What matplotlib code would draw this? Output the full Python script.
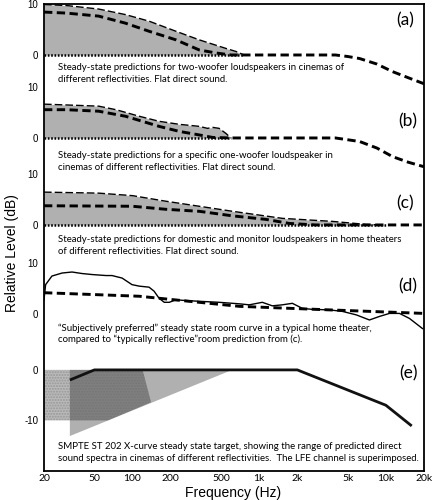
import matplotlib
matplotlib.use("Agg")
import matplotlib.pyplot as plt
from matplotlib.transforms import blended_transform_factory

# ---- data (frequency in Hz, level in dB relative to each panel's 0) ----
# (a) two-woofer cinema loudspeakers
a_upper_f = [20, 30, 54, 88, 135, 220, 336, 546, 655, 760]
a_upper_db = [10.0, 9.8, 9.1, 8.0, 6.7, 4.7, 3.0, 1.3, 0.7, 0.0]
a_lower_f = [20, 30, 54, 88, 135, 220, 336, 455, 600, 3000, 4000, 5000, 6200, 8500, 11300, 15000, 20000]
a_lower_db = [8.5, 8.3, 7.7, 6.3, 4.7, 3.0, 1.0, 0.4, 0.0, 0.0, 0.0, -0.3, -0.7, -1.8, -3.3, -4.5, -5.7]
a_flat_f = [20, 760]

# (b) one-woofer cinema loudspeaker
b_upper_f = [20, 54, 74, 113, 162, 234, 336, 391, 428, 483, 546, 598]
b_upper_db = [6.7, 6.3, 5.6, 4.3, 3.3, 2.7, 2.3, 1.9, 2.1, 1.9, 0.9, 0.0]
b_lower_f = [20, 30, 54, 88, 162, 234, 336, 430, 600, 3000, 4000, 6200, 8500, 11300, 15000, 20000]
b_lower_db = [5.6, 5.6, 5.3, 4.3, 2.3, 1.3, 0.6, 0.1, 0.0, 0.0, 0.0, -0.7, -2.0, -3.7, -4.8, -5.7]
b_flat_f = [20, 600]

# (c) domestic / monitor loudspeakers in home theaters
c_upper_f = [20, 54, 100, 183, 336, 616, 1530, 3800, 7000, 9400]
c_upper_db = [6.5, 6.3, 5.8, 4.7, 3.7, 2.7, 1.3, 0.7, 0.1, 0.0]
c_lower_f = [20, 100, 183, 336, 616, 1130, 1730, 2800, 20000]
c_lower_db = [3.8, 3.7, 3.1, 2.7, 1.8, 1.1, 0.3, 0.0, 0.0]
c_flat_f = [20, 10000]

# (d) preferred room curve vs typically reflective prediction
d_pref_f = [20, 20.6, 23.1, 27.8, 33.3, 39.9, 47.9, 61.8, 68.9, 82.7, 99, 113, 135, 148,
            162, 178, 195, 221, 247, 336, 483, 696, 835, 1058, 1269, 1522, 1826, 2190,
            2628, 3580, 4538, 5856, 7418, 8896, 10676, 12806, 15362, 19458]
d_pref_db = [2.8, 5.8, 7.5, 8.1, 8.3, 8.0, 7.8, 7.6, 7.6, 7.1, 5.8, 5.5, 5.3, 4.5,
             3.1, 2.3, 2.3, 2.8, 2.7, 2.5, 2.3, 2.0, 1.8, 2.3, 1.6, 1.8, 2.1, 1.1,
             0.9, 0.8, 0.5, -0.2, -1.2, -0.5, 0.1, 0.1, -0.9, -2.9]
d_room_f = [20, 113, 280, 696, 3580, 20000]
d_room_db = [4.2, 3.5, 2.5, 1.5, 0.8, 0.1]

# (e) SMPTE ST 202 X-curve, direct sound range, LFE channel
x_curve_f = [32, 50, 2000, 10000, 16000]
x_curve_db = [-2.0, 0.0, 0.0, -7.0, -11.1]
direct_f = [32, 612, 32]
direct_db = [0.0, 0.0, -13.1]
lfe_f = [20, 120, 140, 64, 20]
lfe_db = [0.0, 0.0, -6.4, -10.0, -10.0]

panel_names = ["(a)", "(b)", "(c)", "(d)", "(e)"]
panel_texts = [
    ["Steady-state predictions for two-woofer loudspeakers in cinemas of",
     "different reflectivities. Flat direct sound."],
    ["Steady-state predictions for a specific one-woofer loudspeaker in",
     "cinemas of different reflectivities. Flat direct sound."],
    ["Steady-state predictions for domestic and monitor loudspeakers in home theaters",
     "of different reflectivities. Flat direct sound."],
    ["\u201cSubjectively preferred\u201d steady state room curve in a typical home theater,",
     "compared to \u201ctypically reflective\u201droom prediction from (c)."],
    ["SMPTE ST 202 X-curve steady state target, showing the range of predicted direct",
     "sound spectra in cinemas of different reflectivities.  The LFE channel is superimposed."],
]
x_ticks = [20, 50, 100, 200, 500, 1000, 2000, 5000, 10000, 20000]
x_tick_labels = ["20", "50", "100", "200", "500", "1k", "2k", "5k", "10k", "20k"]

# ---- layout: one axes, panels stacked by vertical offset ----
PX_PER_DB = 5.05
TOP_PX = 4
zero_px = [55, 138, 225, 314, 370]
offsets = [-(p - TOP_PX) / PX_PER_DB for p in zero_px]


def px_to_y(p):
    return -(p - TOP_PX) / PX_PER_DB


plt.rcParams["lines.scale_dashes"] = False

fig = plt.figure(figsize=(4.33, 5.0), dpi=100)
ax = fig.add_axes([44 / 433, 1 - 471 / 500, 380 / 433, 467 / 500])
ax.set_xscale("log")
ax.set_xlim(20, 20000)
ax.set_ylim(-92.5, 0)

fill_grey = "#b0b0b0"
thin = dict(color="black", lw=1.0, dashes=(5.5, 2.2))
thick = dict(color="black", lw=2.1, dashes=(6.0, 3.2))
dots = dict(color="black", lw=1.8, dashes=(1.2, 1.2))

uppers = [(a_upper_f, a_upper_db), (b_upper_f, b_upper_db), (c_upper_f, c_upper_db)]
lowers = [(a_lower_f, a_lower_db), (b_lower_f, b_lower_db), (c_lower_f, c_lower_db)]
flats = [a_flat_f, b_flat_f, c_flat_f]

for i in range(3):
    off = offsets[i]
    uf, udb = uppers[i]
    lf, ldb = lowers[i]
    uy = [off + v for v in udb]
    ax.fill_between(uf, off, uy, color=fill_grey, lw=0, zorder=1)
    ax.plot(uf, uy, zorder=3, **thin)
    ax.plot(flats[i], [off, off], zorder=2, **dots)
    ax.plot(lf, [off + v for v in ldb], zorder=4, **thick)

# (d)
off = offsets[3]
ax.plot(d_room_f, [off + v for v in d_room_db], zorder=3, **thick)
ax.plot(d_pref_f, [off + v for v in d_pref_db], color="black", lw=1.0, zorder=4)

# (e)
off = offsets[4]
ax.fill(direct_f, [off + v for v in direct_db], color="#b0b0b0", lw=0, zorder=1)
ax.fill(lfe_f, [off + v for v in lfe_db], facecolor=(0, 0, 0, 0.27), edgecolor=(0.4, 0.4, 0.4, 0.4),
        hatch="......", lw=0, zorder=2)
ax.plot(x_curve_f, [off + v for v in x_curve_db], color="#111111", lw=2.0, zorder=3,
        solid_capstyle="butt")

# texts
tx = blended_transform_factory(ax.transAxes, ax.transData)
text_px = [(68, 79.5), (156, 167.5), (240, 251.5), (328, 339.5), (447, 458.5)]
for lines, (p1, p2) in zip(panel_texts, text_px):
    for line, p in zip(lines, (p1, p2)):
        ax.text(0.037, px_to_y(p), line, transform=tx, fontsize=6.95, family="Lato",
                va="center", ha="left")

label_px = [(405, 20), (408, 121), (405, 203), (408, 286), (408, 373)]
for name, (lx, ly) in zip(panel_names, label_px):
    ax.text((lx - 44) / 380, px_to_y(ly), name, transform=tx, fontsize=12.5,
            family="Lato", ha="center", va="center")

# y ticks, one pair per panel
y_ticks = []
y_labels = []
for i, o in enumerate(offsets):
    if i < 4:
        y_ticks += [o + 10, o]
        y_labels += ["10", "0"]
    else:
        y_ticks += [o, o - 10]
        y_labels += ["0", "-10"]
ax.set_yticks(y_ticks)
ax.set_yticklabels(y_labels, fontsize=7, family="Liberation Sans")
ax.set_xticks(x_ticks)
ax.set_xticklabels(x_tick_labels, fontsize=7.5, family="Lato")
ax.minorticks_off()
ax.tick_params(axis="both", length=0)
ax.tick_params(axis="y", pad=4)
ax.tick_params(axis="x", pad=2.5)

for s in ax.spines.values():
    s.set_linewidth(1.3)

fig.text(233 / 433, 1 - 492.5 / 500, "Frequency (Hz)", fontsize=10, family="Liberation Sans",
         ha="center", va="center")
fig.text(12 / 433, 1 - 253 / 500, "Relative Level (dB)", rotation=90, fontsize=10,
         family="Liberation Sans", ha="center", va="center")

fig.savefig("out.png", dpi=100)
